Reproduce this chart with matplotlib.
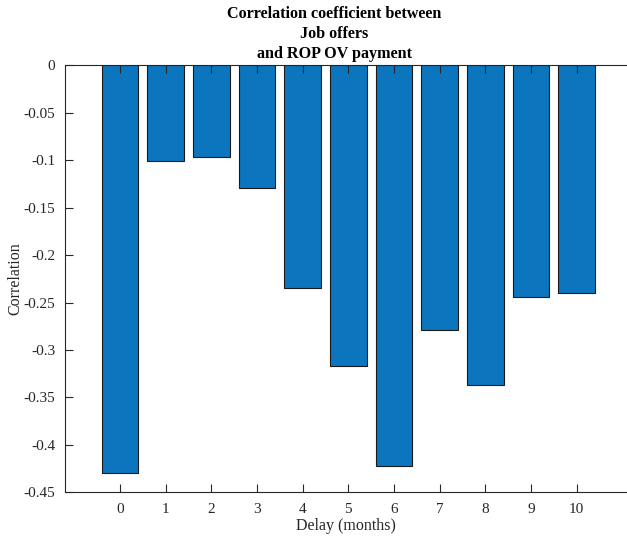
import matplotlib
matplotlib.use('Agg')
import matplotlib.pyplot as plt
from matplotlib.ticker import FuncFormatter

delay = [0, 1, 2, 3, 4, 5, 6, 7, 8, 9, 10]
corr = [-0.430, -0.101, -0.097, -0.129, -0.235, -0.317,
        -0.422, -0.279, -0.337, -0.244, -0.240]
yticks = [0, -0.05, -0.1, -0.15, -0.2, -0.25, -0.3, -0.35, -0.4, -0.45]

plt.rcParams['font.family'] = ['Liberation Serif', 'DejaVu Serif']
plt.rcParams['axes.unicode_minus'] = False

fig = plt.figure(figsize=(6.27, 5.37), dpi=100)
ax = fig.add_axes([0.1037, 0.0832, 0.8963, 0.7952])

ax.bar(delay, corr, width=0.8, color='#0b76be', edgecolor='#1a1a1a',
       linewidth=0.8, zorder=1)

ax.set_xlim(-1.2, 11.1)
ax.set_ylim(-0.45, 0)
ax.set_xticks(delay)
ax.set_yticks(yticks)
ax.yaxis.set_major_formatter(FuncFormatter(lambda v, p: '0' if v == 0 else ('%g' % round(v, 2))))

for s in ['right']:
    ax.spines[s].set_visible(False)
for s in ['left', 'bottom', 'top']:
    ax.spines[s].set_color('#262626')
    ax.spines[s].set_linewidth(0.8)
    ax.spines[s].set_zorder(3)

ax.tick_params(direction='in', length=6, width=0.8, color='#262626',
               labelsize=11, labelcolor='#262626', top=True, zorder=3)
ax.tick_params(axis='x', pad=8)
ax.tick_params(axis='y', pad=7)

ax.set_xlabel('Delay (months)', fontsize=11.5, color='#262626', labelpad=1)
ax.set_ylabel('Correlation', fontsize=11.5, color='#262626', labelpad=0)
ax.set_title('Correlation coefficient between\nJob offers\nand ROP OV payment',
             fontsize=11.6, fontweight='bold', linespacing=1.35, pad=5,
             x=0.479)

fig.savefig('out.png', dpi=100)
